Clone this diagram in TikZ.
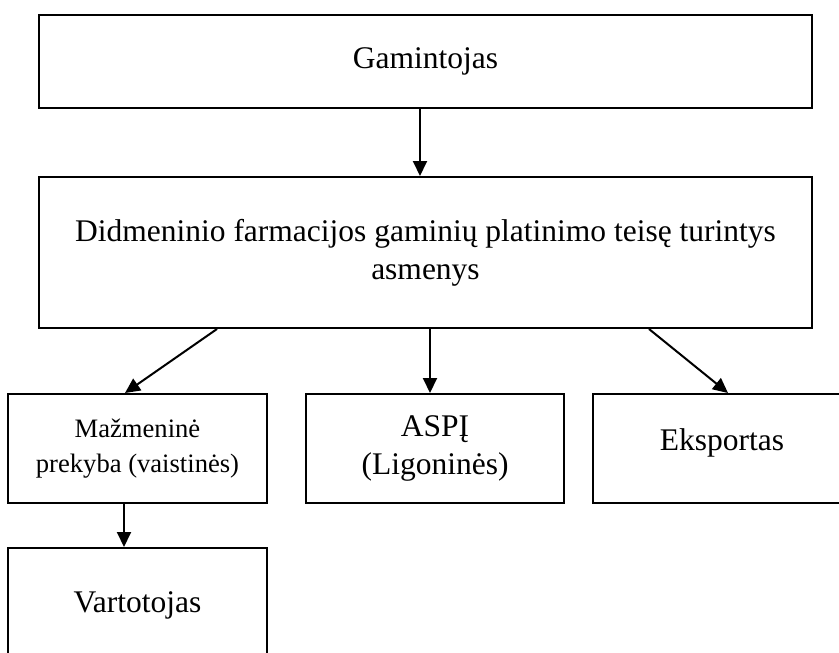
\documentclass[tikz,border=0pt]{standalone}
\usepackage{fontspec}
\setmainfont{Liberation Serif}
\usetikzlibrary{arrows.meta}

\begin{document}
\begin{tikzpicture}[
        x=1pt, y=-1pt,
        >={Triangle[length=15pt,width=14pt]},
        line width=2pt,
        box/.style={
            draw=black,
            line width=2pt,
            align=center,
            inner sep=0pt,
            font=\fontsize{31.5}{38}\selectfont
        },
        smallbox/.style={
            box,
            font=\fontsize{26.6}{35}\selectfont
        }
    ]

    \useasboundingbox (0,0) rectangle (839,653);
    \clip (0,0) rectangle (839,653);

    % --- PRODUCER ---
    \node[box, minimum width=773pt, minimum height=93pt] (gam) at (425.5,61.5) {Gamintojas};

    % --- WHOLESALE ---
    \node[box, minimum width=773pt, minimum height=151pt] (did) at (425.5,252.5) {
    Didmeninio farmacijos gaminių platinimo teisę turintys\\
    asmenys
    };

    % --- CHANNELS ---
    \node[smallbox, minimum width=259pt, minimum height=109pt] (maz) at (137.5,448.5) {
    Mažmeninė\\
    prekyba (vaistinės)
    };
    \node[box, minimum width=258pt, minimum height=109pt] (aspi) at (435,448.5) {
    ASPĮ\\
    (Ligoninės)
    };
    \node[box, minimum width=258pt, minimum height=109pt, text height=21.6pt, text depth=18.6pt] (eks) at (722,448.5) {Eksportas};

    % --- CONSUMER ---
    \node[box, minimum width=259pt, minimum height=114pt] (vart) at (137.5,605) {Vartotojas};

    % --- ARROWS ---
    \draw[->] ([xshift=-5.5pt]gam.south) -- ([xshift=-5.5pt]did.north);
    \draw[->] ([xshift=-208.5pt]did.south) -- ([xshift=-12.5pt]maz.north);
    \draw[->] ([xshift=4.5pt]did.south) -- ([xshift=-5pt]aspi.north);
    \draw[->] ([xshift=223.5pt]did.south) -- ([xshift=6pt]eks.north);
    \draw[->] ([xshift=-13.5pt]maz.south) -- ([xshift=-13.5pt]vart.north);

\end{tikzpicture}
\end{document}
